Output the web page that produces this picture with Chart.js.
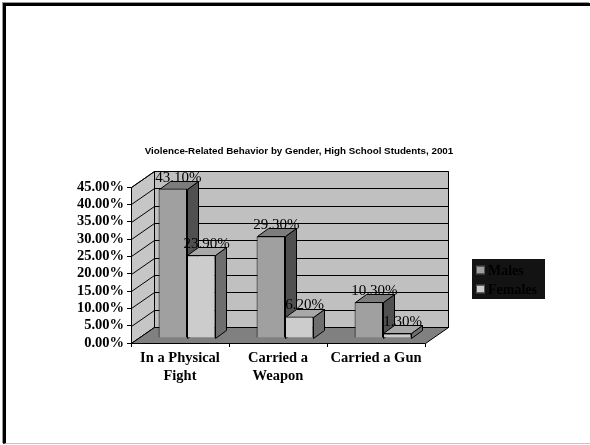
<!DOCTYPE html>
<html>
<head>
<meta charset="utf-8">
<script src="https://cdn.jsdelivr.net/npm/chart.js@4.4.1/dist/chart.umd.min.js"></script>
<style>
  body { margin: 0; background: #fff; }
  #wrap { position: relative; width: 590px; height: 445px; }
  #frame {
    position: absolute; left: 3px; top: 3px; right: 0; bottom: 1px;
    border-top: 3px solid #000; border-left: 3px solid #000;
    border-bottom: 1px solid #c8c8c8;
    box-shadow: -1px -1px 0 #999;
  }
  canvas { position: absolute; left: 0; top: 0; }
</style>
</head>
<body>
<div id="wrap">
  <div id="frame"></div>
  <canvas id="grafico" width="590" height="445"></canvas>
</div>
<script>
const chartTitle = 'Violence-Related Behavior by Gender, High School Students, 2001';
const categories = [['In a Physical', 'Fight'], ['Carried a', 'Weapon'], 'Carried a Gun'];
const males = [43.1, 29.3, 10.3];
const females = [23.9, 6.2, 1.3];
const seriesNames = ['Males', 'Females'];

// 3D look: walls depth, where the bars sit inside it, and bar depth
const DX = 23, DY = -16;
const BAR_SHIFT = 0.3;
const BDX = 11, BDY = -8;

const frontColors = ['#a0a0a0', '#cccccc'];
const sideColors = ['#505050', '#6e6e6e'];
const topColors = ['#7c7c7c', '#a8a8a8'];

const serif = "'Liberation Serif', 'Times New Roman', serif";
const sans = "'Liberation Sans', Arial, sans-serif";

function line(ctx, pts) {
    ctx.beginPath();
    pts.forEach(([x, y], i) => i ? ctx.lineTo(x, y) : ctx.moveTo(x, y));
}

const threeD = {
    id: 'threeD',
    beforeDatasetsDraw(chart) {
        const { ctx, chartArea: a, scales: { y } } = chart;
        const L = a.left + 0.5, R = a.right + 0.5, T = a.top + 0.5, B = a.bottom + 0.5;
        ctx.save();
        ctx.lineWidth = 1;
        ctx.strokeStyle = '#000';

        // parede do fundo
        ctx.fillStyle = '#c0c0c0';
        line(ctx, [[L + DX, T + DY], [R + DX, T + DY], [R + DX, B + DY], [L + DX, B + DY]]);
        ctx.closePath(); ctx.fill(); ctx.stroke();

        // parede lateral
        ctx.fillStyle = '#c6c6c6';
        line(ctx, [[L, B], [L, T], [L + DX, T + DY], [L + DX, B + DY]]);
        ctx.closePath(); ctx.fill(); ctx.stroke();

        // linhas de grade
        y.ticks.forEach(t => {
            const py = Math.round(y.getPixelForValue(t.value)) + 0.5;
            line(ctx, [[L, py], [L + DX, py + DY], [R + DX, py + DY]]);
            ctx.stroke();
        });

        // piso
        ctx.fillStyle = '#808080';
        line(ctx, [[L, B], [R, B], [R + DX, B + DY], [L + DX, B + DY]]);
        ctx.closePath(); ctx.fill(); ctx.stroke();
        ctx.restore();

        // barras ficam um pouco para dentro; faces laterais e topo antes da frente
        ctx.save();
        ctx.translate(Math.round(DX * BAR_SHIFT), Math.round(DY * BAR_SHIFT));
        const n = chart.data.labels.length;
        for (let i = 0; i < n; i++) {
            chart.data.datasets.forEach((ds, d) => {
                const bar = chart.getDatasetMeta(d).data[i];
                const { x, y: top, base, width } = bar.getProps(['x', 'y', 'base', 'width'], true);
                const l = Math.round(x - width / 2) + 0.5, r = Math.round(x + width / 2) + 0.5;
                const t = Math.round(top) + 0.5, b = Math.round(base) + 0.5;
                ctx.lineWidth = 1;
                ctx.strokeStyle = '#000';
                ctx.fillStyle = sideColors[d];
                line(ctx, [[r, t], [r + BDX, t + BDY], [r + BDX, b + BDY], [r, b]]);
                ctx.closePath(); ctx.fill(); ctx.stroke();
                ctx.fillStyle = topColors[d];
                line(ctx, [[l, t], [l + BDX, t + BDY], [r + BDX, t + BDY], [r, t]]);
                ctx.closePath(); ctx.fill(); ctx.stroke();
            });
        }
    },
    afterDatasetsDraw(chart) {
        const { ctx } = chart;
        // rótulos de valor
        ctx.font = `15px ${serif}`;
        ctx.fillStyle = '#000';
        ctx.textAlign = 'center';
        ctx.textBaseline = 'middle';
        chart.data.datasets.forEach((ds, d) => {
            chart.getDatasetMeta(d).data.forEach((bar, i) => {
                ctx.fillText(ds.data[i].toFixed(2) + '%', bar.x + BDX / 2, bar.y - 11);
            });
        });
        ctx.restore();
    },
    afterDraw(chart) {
        const { ctx } = chart;
        ctx.save();
        // título
        ctx.font = `bold 9.8px ${sans}`;
        ctx.fillStyle = '#000';
        ctx.textAlign = 'center';
        ctx.textBaseline = 'middle';
        ctx.fillText(chartTitle, 299, 151);

        // legenda
        ctx.fillStyle = '#131313';
        ctx.fillRect(472, 259, 73, 40);
        ctx.font = `bold 14px ${serif}`;
        ctx.textAlign = 'left';
        chart.data.datasets.forEach((ds, d) => {
            const ly = 270 + d * 19;
            ctx.fillStyle = ds.backgroundColor;
            ctx.strokeStyle = '#555';
            ctx.fillRect(477, ly - 3.5, 7, 7);
            ctx.strokeRect(476.5, ly - 4, 8, 8);
            ctx.fillStyle = '#000';
            ctx.fillText(ds.label, 488, ly + 1);
        });
        ctx.restore();
    }
};

new Chart(document.getElementById('grafico'), {
    type: 'bar',
    data: {
        labels: categories,
        datasets: [
            { label: seriesNames[0], data: males, backgroundColor: frontColors[0], borderColor: '#000', borderWidth: 1 },
            { label: seriesNames[1], data: females, backgroundColor: frontColors[1], borderColor: '#000', borderWidth: 1 }
        ]
    },
    options: {
        responsive: false,
        animation: false,
        layout: { padding: { left: 71, right: 165, top: 187, bottom: 42 } },
        datasets: { bar: { categoryPercentage: 0.58, barPercentage: 1, clip: false } },
        plugins: {
            legend: { display: false },
            title: { display: false },
            tooltip: { enabled: false }
        },
        scales: {
            x: {
                offset: true,
                afterFit: s => { s.height = 60; },
                grid: { offset: true, drawOnChartArea: false, tickLength: 4, color: '#000' },
                border: { display: true, color: '#000' },
                ticks: { color: '#000', font: { family: serif, size: 14.5, weight: 'bold' }, padding: 3, maxRotation: 0 }
            },
            y: {
                min: 0,
                max: 45,
                afterFit: s => { s.width = 60; },
                grid: { drawOnChartArea: false, tickLength: 4, color: '#000' },
                border: { display: true, color: '#000' },
                ticks: {
                    stepSize: 5,
                    autoSkip: false,
                    color: '#000',
                    padding: 3,
                    font: { family: serif, size: 14.5, weight: 'bold' },
                    callback: v => v.toFixed(2) + '%'
                }
            }
        }
    },
    plugins: [threeD]
});
</script>
</body>
</html>
